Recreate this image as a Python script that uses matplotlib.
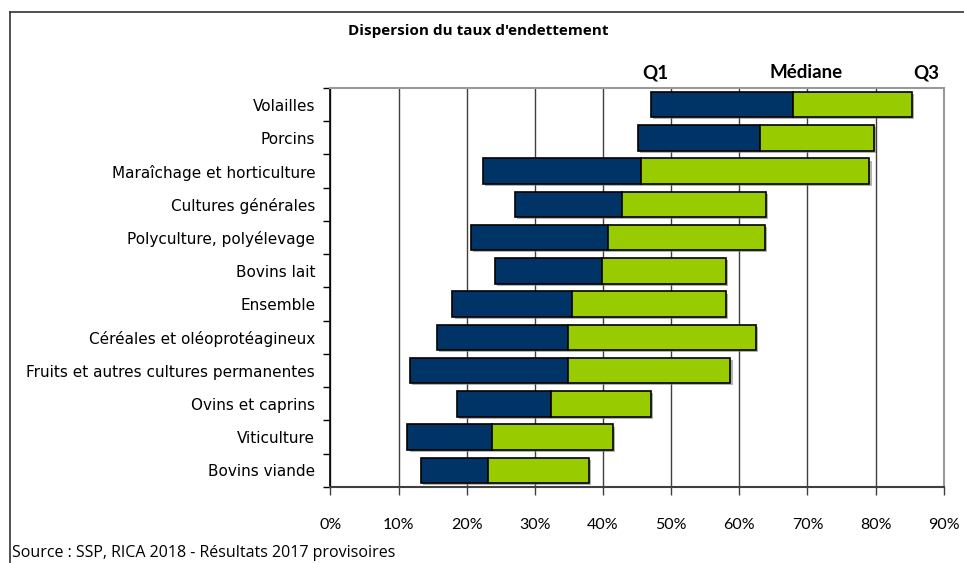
import matplotlib
matplotlib.use("Agg")
import matplotlib.pyplot as plt
import matplotlib.patheffects as pe
from matplotlib.lines import Line2D
import numpy as np

plt.rcParams['font.family'] = ['Lato', 'DejaVu Sans']

categories = ["Volailles", "Porcins", "Maraîchage et horticulture", "Cultures générales",
              "Polyculture, polyélevage", "Bovins lait", "Ensemble",
              "Céréales et oléoprotéagineux", "Fruits et autres cultures permanentes",
              "Ovins et caprins", "Viticulture", "Bovins viande"]
q1 = [47.0, 45.1, 22.4, 27.05, 20.6, 24.1, 17.9, 15.6, 11.7, 18.5, 11.3, 13.3]
mediane = [67.9, 63.1, 45.6, 42.8, 40.8, 39.8, 35.4, 34.9, 34.9, 32.3, 23.7, 23.1]
q3 = [85.4, 79.7, 79.1, 63.9, 63.7, 58.1, 58.1, 62.4, 58.7, 47.0, 41.4, 37.9]
xticks = [0, 10, 20, 30, 40, 50, 60, 70, 80, 90]
xticklabels = ["0%", "10%", "20%", "30%", "40%", "50%", "60%", "70%", "80%", "90%"]

BLUE = "#003366"
GREEN = "#99CC00"

fig = plt.figure(figsize=(9.64, 5.63), dpi=100)
ax = fig.add_axes([0.3428, 0.135, 0.979 - 0.3428, 0.8437 - 0.135])

n = len(categories)
y = np.arange(n)[::-1]
q1a = np.array(q1); ma = np.array(mediane); q3a = np.array(q3)

shadow = [pe.SimplePatchShadow(offset=(1.5, -1.5), shadow_rgbFace='#808080', alpha=0.6), pe.Normal()]
b1 = ax.barh(y, ma - q1a, left=q1a, height=0.76, color=BLUE, edgecolor='black', linewidth=1.2, zorder=3)
b2 = ax.barh(y, q3a - ma, left=ma, height=0.76, color=GREEN, edgecolor='black', linewidth=1.2, zorder=3)
for b in list(b1) + list(b2):
    b.set_path_effects(shadow)

ax.set_xlim(0, 90)
ax.set_ylim(-0.5, n - 0.5)
ax.set_xticks(xticks)
ax.set_xticklabels(xticklabels, fontsize=11.5)
ax.xaxis.grid(True, color='#404040', linewidth=1.0, zorder=0)
ax.set_axisbelow(True)
ax.tick_params(axis='x', direction='out', length=6, width=1, color='#404040', pad=16)

ax.set_yticks(y)
ax.set_yticklabels(categories, fontsize=11, family=['DejaVu Sans'])
ax.set_yticks(np.arange(-0.5, n, 1.0), minor=True)
ax.tick_params(axis='y', which='major', length=0, pad=11)
ax.tick_params(axis='y', which='minor', direction='out', length=5, width=1, color='black')

for s in ['top', 'right']:
    ax.spines[s].set_color('#999999')
    ax.spines[s].set_linewidth(1.5)
ax.spines['left'].set_color('black')
ax.spines['left'].set_linewidth(1.2)
ax.spines['bottom'].set_color('#404040')
ax.spines['bottom'].set_linewidth(1.5)

W, H = 964, 563
def fx(px): return px / W
def fy(py): return 1 - py / H

fig.text(fx(478), fy(31), "Dispersion du taux d'endettement", fontsize=11, fontweight='bold',
         ha='center', va='center', family=['Open Sans', 'DejaVu Sans'])
fig.text(fx(655), fy(73), "Q1", fontsize=13.5, fontweight='bold', ha='center', va='center')
fig.text(fx(806), fy(73), "Médiane", fontsize=13.5, fontweight='bold', ha='center', va='center')
fig.text(fx(926), fy(73), "Q3", fontsize=13.5, fontweight='bold', ha='center', va='center')
fig.text(fx(12), fy(553), "Source : SSP, RICA 2018 - Résultats 2017 provisoires", fontsize=11.5,
         ha='left', va='center', family=['Open Sans', 'DejaVu Sans'])

fig.add_artist(Line2D([fx(10), fx(10)], [fy(12), 0], color='#333333', linewidth=1.2))
fig.add_artist(Line2D([fx(10), 1], [fy(12), fy(12)], color='#333333', linewidth=1.2))

fig.savefig("out.png", dpi=100)
